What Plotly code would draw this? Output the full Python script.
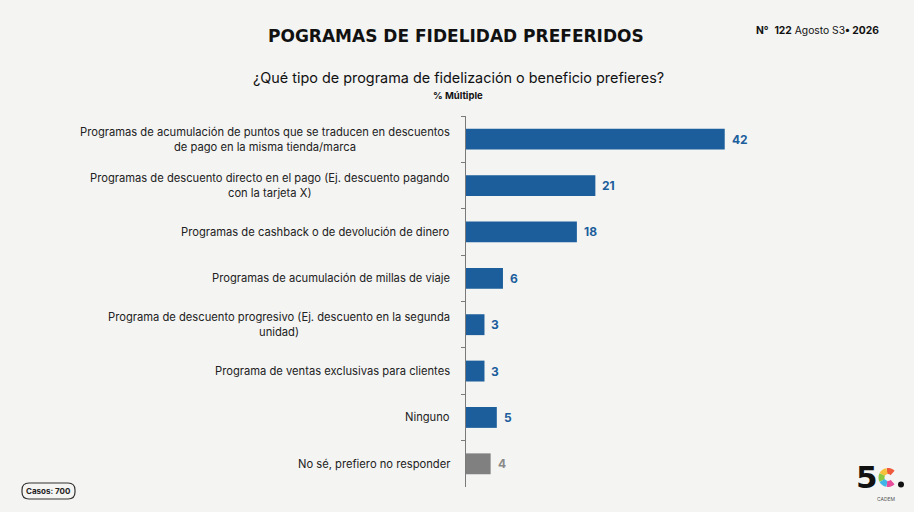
import numpy as np
import plotly.graph_objects as go

# data
categories = [
    "Programas de acumulación de puntos que se traducen en descuentos<br>de pago en la misma tienda/marca",
    "Programas de descuento directo en el pago (Ej. descuento pagando<br>con la tarjeta X)",
    "Programas de cashback o de devolución de dinero",
    "Programas de acumulación de millas de viaje",
    "Programa de descuento progresivo (Ej. descuento en la segunda<br>unidad)",
    "Programa de ventas exclusivas para clientes",
    "Ninguno",
    "No sé, prefiero no responder",
]
values = [42, 21, 18, 6, 3, 3, 5, 4]
bar_colors = ["#1b5e9b"] * 7 + ["#808080"]
label_colors = ["#1b5e9b"] * 7 + ["#8a8a8a"]

FONT = "Inter"
bg = "#f4f4f3"

W, H = 914, 512
ML, MR, MT, MB = 466, 140, 116, 25
pw, ph = W - ML - MR, H - MT - MB


def px(x):  # page pixel -> paper
    return (x - ML) / pw


def py(y):
    return 1 - (y - MT) / ph


fig = go.Figure()
fig.add_trace(go.Bar(
    x=values, y=categories, orientation="h",
    marker=dict(color=bar_colors, line_width=0),
    hoverinfo="skip",
))

annotations = []
for cat, val, col in zip(categories, values, label_colors):
    # value next to bar end
    annotations.append(dict(
        x=val, y=cat, xref="x", yref="y", text="<b>%d</b>" % val,
        showarrow=False, xanchor="left", xshift=5,
        font=dict(family=FONT, size=12, color=col),
    ))
    # category label, lines centred on each other
    annotations.append(dict(
        x=0, y=cat, xref="x", yref="y", text=cat,
        showarrow=False, xanchor="right", xshift=-14, align="center",
        font=dict(family=FONT, size=11.2, color="#222222"),
    ))

# titles and furniture, positions in page pixels
annotations += [
    dict(x=px(456), y=py(36), text="<b>POGRAMAS DE FIDELIDAD PREFERIDOS</b>",
         font=dict(family="DejaVu Sans", size=17, color="#111111")),
    dict(x=px(458), y=py(78), text="¿Qué tipo de programa de fidelización o beneficio prefieres?",
         font=dict(family=FONT, size=14.4, color="#111111")),
    dict(x=px(458), y=py(95), text="<b>% Múltiple</b>",
         font=dict(family=FONT, size=9.5, color="#111111")),
    dict(x=px(817), y=py(30), text="<b>N°</b>  <b>122</b> Agosto S3<b>• 2026</b>",
         font=dict(family=FONT, size=10.3, color="#111111")),
    dict(x=px(48.5), y=py(491), text="<b>Casos: 700</b>",
         font=dict(family=FONT, size=8, color="#222222")),
    dict(x=px(867), y=py(477), text="<b>5</b>",
         font=dict(family="DejaVu Sans", size=31, color="#111111")),
    dict(x=px(886), y=py(499), text="CADEM",
         font=dict(family=FONT, size=5, color="#555555")),
]
for a in annotations[2 * len(categories):]:
    a.update(xref="paper", yref="paper", showarrow=False,
             xanchor="center", yanchor="middle")

shapes = []

# rounded pill round "Casos: 700"
x0, x1, y0, y1, r = px(22), px(75), py(499), py(483), 7
rx, ry = r / pw, r / ph
pill = ("M {a},{y0} L {b},{y0} Q {x1},{y0} {x1},{c} L {x1},{d} Q {x1},{y1} {b},{y1} "
        "L {a},{y1} Q {x0},{y1} {x0},{d} L {x0},{c} Q {x0},{y0} {a},{y0} Z").format(
    a=x0 + rx, b=x1 - rx, c=y0 + ry, d=y1 - ry, x0=x0, x1=x1, y0=y0, y1=y1)
shapes.append(dict(type="path", xref="paper", yref="paper", path=pill,
                   line=dict(color="#333333", width=1.2)))

# logo: multicoloured C made of arc pieces, plus the dot
logo_cols = ["#f05a3c", "#f7c23b", "#8cc83f", "#3fb6e8", "#e84d9b"]
cx, cy, rad = 888, 477.5, 6.5
for i, c in enumerate(logo_cols):
    t = np.radians(np.linspace(45 + 54 * i, 45 + 54 * (i + 1), 8))
    pts = ["{:.5f},{:.5f}".format(px(cx + rad * np.cos(a)), py(cy - rad * np.sin(a))) for a in t]
    shapes.append(dict(type="path", xref="paper", yref="paper",
                       path="M " + " L ".join(pts), line=dict(color=c, width=6)))
shapes.append(dict(type="circle", xref="paper", yref="paper",
                   x0=px(898), x1=px(904), y0=py(487.5), y1=py(481.5),
                   fillcolor="#111111", line_width=0))

fig.update_layout(
    width=W, height=H,
    margin=dict(l=ML, r=MR, t=MT, b=MB),
    paper_bgcolor=bg, plot_bgcolor=bg,
    showlegend=False, bargap=0.55,
    annotations=annotations,
    shapes=shapes,
    xaxis=dict(range=[0, 50], visible=False, fixedrange=True),
    yaxis=dict(
        autorange="reversed", showticklabels=False,
        showline=True, linecolor="#7a7a7a", linewidth=1.2,
        ticks="outside", tickson="boundaries", ticklen=4, tickcolor="#7a7a7a",
        showgrid=False, zeroline=False, fixedrange=True,
    ),
)

# drop the browser's default page margin so the figure sits at 0,0
fig.write_html("out.html", post_script="document.body.style.margin='0';",
               config={"displayModeBar": False})
